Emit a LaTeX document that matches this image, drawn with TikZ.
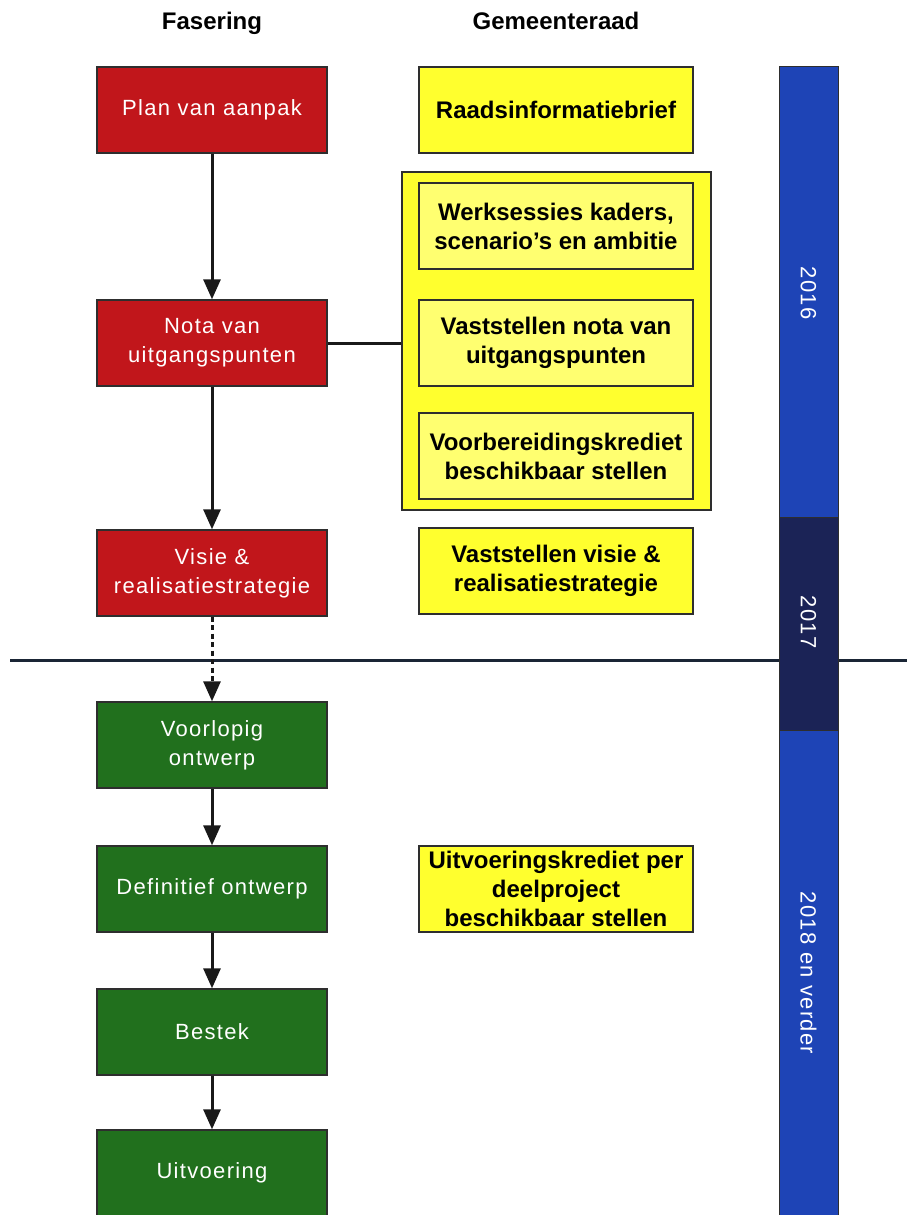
\documentclass[tikz,border=0pt]{standalone}
\usepackage{fontspec}
\setmainfont{Liberation Sans}
\newfontfamily\spacedsans[LetterSpace=6]{Liberation Sans}
\usetikzlibrary{arrows.meta}
\definecolor{redfill}{HTML}{C1161B}
\definecolor{greenfill}{HTML}{21701D}
\definecolor{yellowfill}{HTML}{FFFF2E}
\definecolor{yellowinner}{HTML}{FFFF70}
\definecolor{boxline}{HTML}{2E2E2E}
\definecolor{bluebar}{HTML}{1E44B6}
\definecolor{navybar}{HTML}{1B2356}
\definecolor{rulecol}{HTML}{1A2535}
\tikzset{
  phase/.style={draw=boxline, line width=1.4pt, minimum width=230pt, minimum height=86pt,
    inner sep=0pt, text=white, align=center, font=\spacedsans\fontsize{22}{29}\selectfont},
  redbox/.style={phase, fill=redfill},
  greenbox/.style={phase, fill=greenfill},
  raadbox/.style={draw=boxline, line width=1.4pt, fill=yellowfill, minimum width=274pt,
    minimum height=86pt, inner sep=0pt, align=center, font=\bfseries\fontsize{24}{29}\selectfont},
  innerbox/.style={raadbox, fill=yellowinner},
  heading/.style={anchor=base, font=\bfseries\fontsize{24}{28}\selectfont},
  barseg/.style={draw=boxline, line width=0.8pt, minimum width=59pt, inner sep=0pt},
  bartext/.style={text=white, rotate=-90, font=\spacedsans\fontsize{22}{24}\selectfont},
  flow/.style={line width=3pt, draw=black!90, -{Triangle[length=20pt,width=17pt]}},
  dflow/.style={flow, dash pattern=on 5pt off 3.5pt},
}
\begin{document}
\begin{tikzpicture}[x=1pt,y=-1pt]
\useasboundingbox (0,0) rectangle (907,1215);
\fill[white] (0,0) rectangle (907,1215);

% headings
\node[heading] (hfas) at (212,30) {Fasering};
\node[heading] (hgem) at (556,30) {Gemeenteraad};

% horizontal divider
\coordinate (divL) at (10,660);
\coordinate (divR) at (907,660);
\draw[line width=3pt, draw=rulecol] (divL) -- (divR);

% timeline bar
\node[barseg, fill=bluebar, minimum height=451pt] (y2016) at (808.5,291.5) {};
\node[barseg, fill=navybar, minimum height=213pt] (y2017) at (808.5,623.5) {};
\node[barseg, fill=bluebar, minimum height=487pt] (y2018) at (808.5,973.5) {};
\node[bartext] (t2016) at (808.5,293) {2016};
\node[bartext] (t2017) at (808.5,622) {2017};
\node[bartext] (t2018) at (808.5,973) {2018 en verder};

% phase column
\node[redbox] (plan) at (212,110) {Plan van aanpak};
\node[redbox] (nota) at (212,343) {Nota van\\uitgangspunten};
\node[redbox] (visie) at (212,573) {Visie \&\\realisatiestrategie};
\node[greenbox] (vo) at (212,745) {Voorlopig\\ontwerp};
\node[greenbox] (do) at (212,889) {Definitief ontwerp};
\node[greenbox] (bestek) at (212,1032) {Bestek};
\node[greenbox] (uitv) at (212,1173) {Uitvoering};

% council column
\node[raadbox] (rib) at (556,110) {Raadsinformatiebrief};
\node[draw=boxline, line width=1.4pt, fill=yellowfill, minimum width=309pt, minimum height=338pt, inner sep=0pt] (group) at (556.5,341) {};
\node[innerbox] (werk) at (556,226) {Werksessies kaders,\\scenario's en ambitie};
\node[innerbox] (vnota) at (556,343) {Vaststellen nota van\\uitgangspunten};
\node[innerbox] (vbk) at (556,456) {Voorbereidingskrediet\\beschikbaar stellen};
\node[raadbox] (vvisie) at (556,571) {Vaststellen visie \&\\realisatiestrategie};
\node[raadbox] (uk) at (556,889) {Uitvoeringskrediet per\\deelproject\\beschikbaar stellen};

% connectors
\draw[flow] (plan) -- (nota);
\draw[flow] (nota) -- (visie);
\draw[dflow] (visie) -- (vo);
\draw[flow] (vo) -- (do);
\draw[flow] (do) -- (bestek);
\draw[flow] (bestek) -- (uitv);
\draw[line width=3pt, draw=black!90] (nota.east) -- (group.west |- nota.east);
\end{tikzpicture}
\end{document}
